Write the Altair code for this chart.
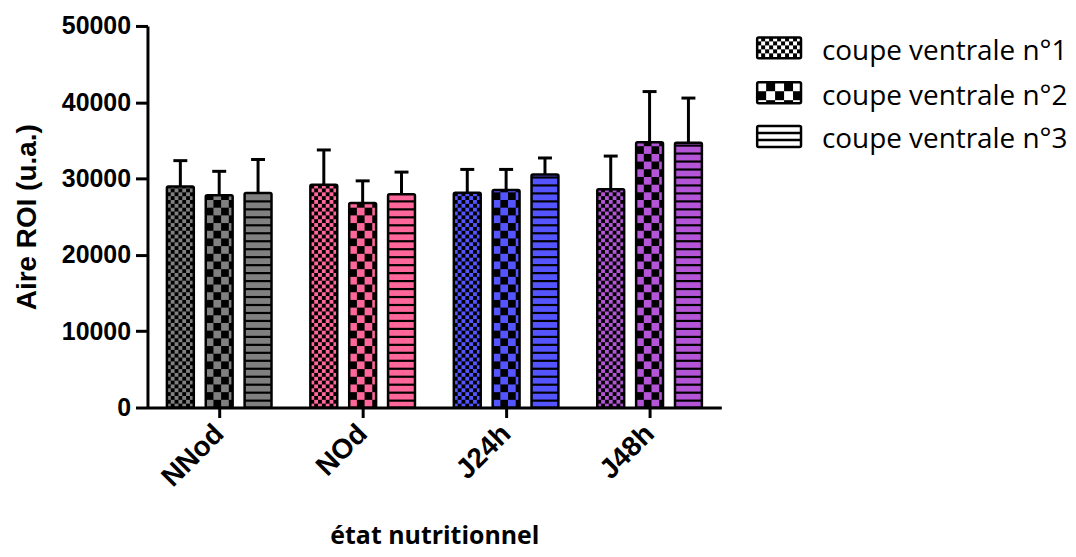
import json
import numpy as np
import pandas as pd
import altair as alt

# ---------------- data ----------------
groups = ["NNod", "NOd", "J24h", "J48h"]
series = ["coupe ventrale n°1", "coupe ventrale n°2", "coupe ventrale n°3"]
mean_n1 = [28950, 29200, 28150, 28600]
mean_n2 = [27800, 26800, 28500, 34750]
mean_n3 = [28100, 27950, 30550, 34700]
sd_n1 = [3400, 4550, 3050, 4350]
sd_n2 = [3150, 2900, 2700, 6650]
sd_n3 = [4400, 2900, 2150, 5850]
group_colors = ["#808080", "#FF6699", "#5555FF", "#B455D8"]
y_ticks = [0, 10000, 20000, 30000, 40000, 50000]

# ---------------- geometry helpers ----------------
W, H, YMAX = 576, 383, 50000
ux = len(groups) / W      # data units per pixel (x)
uy = YMAX / H             # data units per pixel (y)
offsets_px = [-39, 0, 39]
half_px = 13.5
bar_px = 2 * half_px

means = [mean_n1, mean_n2, mean_n3]
sds = [sd_n1, sd_n2, sd_n3]

base_rows, cell_rows, outline_rows, err_rows = [], [], [], []
for gi, g in enumerate(groups):
    col = group_colors[gi]
    for si in range(3):
        m = means[si][gi]
        s = sds[si][gi]
        cx = gi + 0.5 + offsets_px[si] * ux
        x0, x1 = cx - half_px * ux, cx + half_px * ux
        base_rows.append(dict(x=x0, x2=x1, y=0, y2=m, fill=("black" if si < 2 else col)))
        if si < 2:
            cw = bar_px / 7 if si == 0 else bar_px / 3.5
            ncol = int(np.ceil(bar_px / cw - 1e-9))
            nrow = int(np.ceil(m / (cw * uy)))
            for r in range(nrow):
                ya = r * cw * uy
                yb = min((r + 1) * cw * uy, m)
                for c in range(ncol):
                    if (r + c) % 2 == 0:
                        xa = x0 + c * cw * ux
                        xb = min(x0 + (c + 1) * cw * ux, x1)
                        cell_rows.append(dict(x=xa, x2=xb, y=ya, y2=yb, fill=col))
        else:
            period, lw = 8.0, 2.2
            k = 1
            while k * period * uy < m - 1.5 * uy:
                yb = k * period * uy
                cell_rows.append(dict(x=x0, x2=x1, y=yb - lw * uy, y2=yb, fill="black"))
                k += 1
        outline_rows.append(dict(x=x0, x2=x1, y=0, y2=m, group=g, series=series[si]))
        err_rows.append(dict(x=cx, xa=cx - 7 * ux, xb=cx + 7 * ux, y=m, y2=m + s))

df_base = pd.DataFrame(base_rows)
df_cells = pd.DataFrame(cell_rows)
df_out = pd.DataFrame(outline_rows)
df_err = pd.DataFrame(err_rows)

label_expr = json.dumps(groups) + "[floor(datum.value)]"

xscale = alt.Scale(domain=[0, len(groups)], nice=False, zero=False)
yscale = alt.Scale(domain=[0, YMAX], nice=False)
xaxis = alt.Axis(values=[i + 0.5 for i in range(len(groups))], labelExpr=label_expr,
                 labelAngle=315, labelAlign="right", labelBaseline="middle",
                 labelFont="Liberation Sans", labelFontWeight="bold", labelFontSize=28,
                 labelColor="black", labelPadding=12, tickSize=10, tickWidth=3,
                 tickColor="black", domainColor="black", domainWidth=3, grid=False,
                 titleFont="Open Sans", titleFontWeight="bold", titleFontSize=25,
                 titleColor="black", titlePadding=32)
yaxis = alt.Axis(values=y_ticks, format="d", labelFont="Liberation Sans",
                 labelFontWeight="bold", labelFontSize=25, labelColor="black",
                 labelPadding=5, tickSize=12, tickWidth=3, tickColor="black",
                 domainColor="black", domainWidth=3, grid=False,
                 titleFont="Liberation Sans", titleFontWeight="bold", titleFontSize=28,
                 titleColor="black", titlePadding=20)


def X(f):
    return alt.X(f"{f}:Q", scale=xscale, axis=xaxis, title="état nutritionnel")


def Y(f):
    return alt.Y(f"{f}:Q", scale=yscale, axis=yaxis, title="Aire ROI (u.a.)")


base = alt.Chart(df_base).mark_rect().encode(
    x=X("x"), x2="x2", y=Y("y"), y2="y2", fill=alt.Fill("fill:N", scale=None))
cells = alt.Chart(df_cells).mark_rect().encode(
    x=X("x"), x2="x2", y=Y("y"), y2="y2", fill=alt.Fill("fill:N", scale=None))
err_line = alt.Chart(df_err).mark_rule(color="black", strokeWidth=3).encode(
    x=X("x"), y=Y("y"), y2="y2")
err_cap = alt.Chart(df_err).mark_rule(color="black", strokeWidth=3).encode(
    x=X("xa"), x2="xb", y=Y("y2"))
outline = alt.Chart(df_out).mark_rect(fillOpacity=0, stroke="black", strokeWidth=2.5,
                                      cornerRadius=1.5).encode(
    x=X("x"), x2="x2", y=Y("y"), y2="y2")

main = alt.layer(base, cells, err_line, err_cap, outline).properties(width=W, height=H)

# ---------------- legend panel ----------------
LW, LH = 305, 383
row_y = [22, 67, 111]
sym_x0, sym_w, sym_h = 0, 44, 21
text_x = 65
leg_base, leg_cells, leg_out, leg_txt = [], [], [], []
for si, name in enumerate(series):
    yc = row_y[si]
    ya0, ya1 = yc - sym_h / 2, yc + sym_h / 2
    xs0, xs1 = sym_x0, sym_x0 + sym_w
    leg_out.append(dict(x=xs0, x2=xs1, y=ya0, y2=ya1))
    leg_txt.append(dict(x=text_x, y=yc + 4, label=name))
    if si < 2:
        leg_base.append(dict(x=xs0, x2=xs1, y=ya0, y2=ya1, fill="black"))
        cs = 4.0 if si == 0 else 9.0
        nr = int(np.ceil(sym_h / cs))
        nc = int(np.ceil(sym_w / cs))
        for r in range(nr):
            for c in range(nc):
                if (r + c) % 2 == 0:
                    leg_cells.append(dict(x=xs0 + c * cs, x2=min(xs0 + (c + 1) * cs, xs1),
                                          y=ya0 + r * cs, y2=min(ya0 + (r + 1) * cs, ya1),
                                          fill="white"))
    else:
        leg_base.append(dict(x=xs0, x2=xs1, y=ya0, y2=ya1, fill="white"))
        for f in (1 / 3, 2 / 3):
            yy = ya0 + f * sym_h
            leg_cells.append(dict(x=xs0, x2=xs1, y=yy - 1.2, y2=yy + 1.2, fill="black"))

lx = alt.Scale(domain=[0, LW], nice=False, zero=False)
ly = alt.Scale(domain=[0, LH], nice=False, zero=False, reverse=True)


def LX(f):
    return alt.X(f"{f}:Q", scale=lx, axis=None)


def LY(f):
    return alt.Y(f"{f}:Q", scale=ly, axis=None)


lb = alt.Chart(pd.DataFrame(leg_base)).mark_rect().encode(
    x=LX("x"), x2="x2", y=LY("y"), y2="y2", fill=alt.Fill("fill:N", scale=None))
lc = alt.Chart(pd.DataFrame(leg_cells)).mark_rect().encode(
    x=LX("x"), x2="x2", y=LY("y"), y2="y2", fill=alt.Fill("fill:N", scale=None))
lo = alt.Chart(pd.DataFrame(leg_out)).mark_rect(fillOpacity=0, stroke="black", strokeWidth=2.5,
                                                cornerRadius=1.5).encode(
    x=LX("x"), x2="x2", y=LY("y"), y2="y2")
lt = alt.Chart(pd.DataFrame(leg_txt)).mark_text(align="left", baseline="middle",
                                                font="Open Sans", fontSize=28,
                                                color="black").encode(
    x=LX("x"), y=LY("y"), text="label:N")
legend = alt.layer(lb, lc, lo, lt).properties(width=LW, height=LH)

chart = alt.hconcat(main, legend, spacing=34).properties(
    padding={"left": 5, "top": 5, "right": 0, "bottom": 0}
).configure_view(strokeWidth=0)

chart.save("out.html", embed_options={"renderer": "svg", "actions": False})
